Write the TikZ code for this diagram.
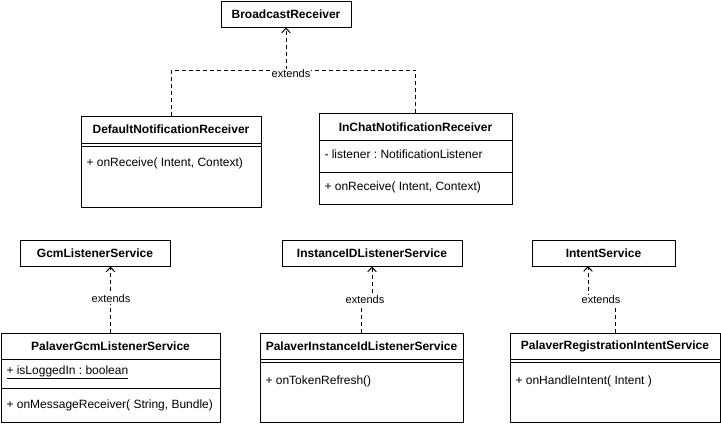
\documentclass[tikz,border=0pt]{standalone}
\usepackage{fontspec}
\setmainfont{Liberation Sans}
\usetikzlibrary{arrows.meta,fit}
\frenchspacing
\begin{document}
\begin{tikzpicture}[x=0.75pt,y=-0.75pt,line width=0.75pt,
  box/.style={draw=black,fill=white,inner sep=0pt,fit={#1}},
  hdr/.style={font=\bfseries\fontsize{9pt}{11pt}\selectfont,inner sep=0pt},
  member/.style={font=\fontsize{9pt}{11pt}\selectfont,inner sep=0pt,anchor=west},
  dep/.style={dash pattern=on 3pt off 2.25pt},
  ext/.style={dep,-{Straight Barb[length=3.5pt,width=6.5pt]}},
  lbl/.style={font=\fontsize{8.25pt}{10pt}\selectfont,fill=white,inner sep=0.6pt}]
\useasboundingbox (0,0) rectangle (721,425);

% top group
\node[box={(221,1)(351,27)}] (br) {};
\node[hdr] (brT) at (br.center) {BroadcastReceiver};

\node[box={(81,116)(261,207)}] (dnr) {};
\node[hdr] (dnrT) at (171,129.5) {DefaultNotificationReceiver};
\draw (81,143) -- (261,143);
\draw (81,146.5) -- (261,146.5);
\node[member] (dnrM) at (86,163) {+ onReceive( Intent, Context)};

\node[box={(319,113)(512,204)}] (icr) {};
\node[hdr] (icrT) at (415.5,127) {InChatNotificationReceiver};
\draw (319,140.5) -- (512,140.5);
\node[member] (icrA) at (324,154) {- listener : NotificationListener};
\draw (319,172) -- (512,172);
\node[member] (icrM) at (324,187) {+ onReceive( Intent, Context)};

\coordinate (jTop) at (br.south |- 0,70);
\draw[dep] (dnr.north) |- (jTop) -| (icr.north);
\draw[ext] (jTop) -- (br.south);
\node[lbl] (lTop) at (291,74) {extends};

% bottom left
\node[box={(20,240)(170,266)}] (gcm) {};
\node[hdr] (gcmT) at (gcm.center) {GcmListenerService};

\node[box={(1,333)(220,422)}] (pgcm) {};
\node[hdr] (pgcmT) at (110.5,346) {PalaverGcmListenerService};
\draw (1,359) -- (220,359);
\node[member] (pgcmA) at (6,372.5) {\underline{+ isLoggedIn : boolean}};
\draw (1,388) -- (220,388);
\node[member] (pgcmM) at (6,405) {+ onMessageReceiver( String, Bundle)};

\draw[ext] (pgcm.north) -- (pgcm.north |- gcm.south);
\node[lbl] (lGcm) at (111,299) {extends};

% bottom middle
\node[box={(282,240)(462,266)}] (iid) {};
\node[hdr] (iidT) at (iid.center) {InstanceIDListenerService};

\node[box={(260,333)(463,422)}] (pid) {};
\node[hdr] (pidT) at (361.5,346) {PalaverInstanceIdListenerService};
\draw (260,359) -- (463,359);
\draw (260,362.5) -- (463,362.5);
\node[member] (pidM) at (265,381) {+ onTokenRefresh()};

\coordinate (jPid) at (365,300);
\draw[dep] (pid.north) |- (jPid);
\draw[ext] (jPid) -| (iid.south);
\node[lbl] (lPid) at (365,300) {extends};

% bottom right
\node[box={(532,240)(675,266)}] (is) {};
\node[hdr] (isT) at (is.center) {IntentService};
\coordinate (isIn) at (588,266);

\node[box={(510,333)(720,422)}] (pris) {};
\node[hdr] (prisT) at (615,346) {PalaverRegistrationIntentService};
\draw (510,359) -- (720,359);
\draw (510,362.5) -- (720,362.5);
\node[member] (prisM) at (515,381) {+ onHandleIntent( Intent )};

\coordinate (jIs) at (600,300);
\draw[dep] (pris.north) |- (jIs);
\draw[ext] (jIs) -| (isIn);
\node[lbl] (lIs) at (601,300) {extends};
\end{tikzpicture}
\end{document}
